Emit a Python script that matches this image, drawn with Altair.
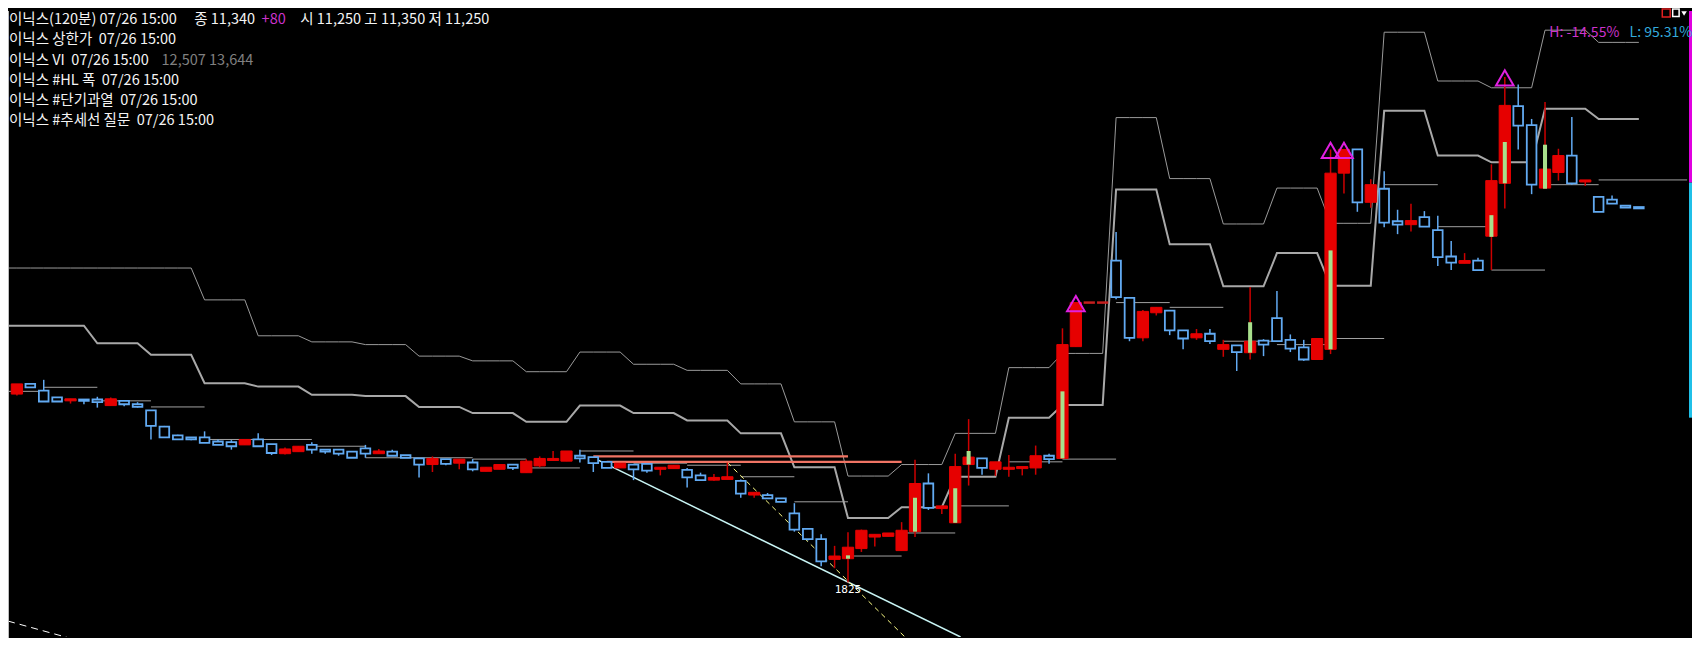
import altair as alt
import pandas as pd

# ---------------- data (120-minute bars, 4 bars per trading day) ----------------
opens = [8590, 8740, 8640, 8540, 8490, 8510, 8510, 8420, 8490, 8440,
         8350, 8110, 7980, 7950, 7950, 7890, 7880, 7840, 7920, 7850,
         7710, 7740, 7840, 7770, 7770, 7740, 7790, 7710, 7740, 7690,
         7640, 7550, 7630, 7570, 7580, 7450, 7480, 7550, 7430, 7530,
         7610, 7600, 7680, 7660, 7590, 7500, 7550, 7560, 7480, 7490,
         7470, 7390, 7320, 7330, 7310, 7100, 7100, 7050, 6830, 6600,
         6450, 6150, 6160, 6310, 6480, 6490, 6280, 6560, 7270, 6900,
         6690, 7550, 7640, 7480, 7480, 7490, 7500, 7680, 7640, 9290,
         9940, 9940, 10560, 10010, 9420, 9790, 9820, 9530, 9420, 9480,
         9250, 9310, 9200, 9380, 9710, 9390, 9280, 9100, 9250, 11850,
         12200, 11420, 11620, 11140, 11090, 11200, 11010, 10620, 10520, 10560,
         10920, 11700, 12840, 12560, 11630, 11860, 12110, 11720, 11500, 11460,
         11370, 11350]
highs = [8740, 8750, 8800, 8540, 8520, 8510, 8550, 8540, 8490, 8470,
         8350, 8120, 7990, 7950, 8040, 7920, 7910, 7920, 8010, 7850,
         7800, 7820, 7880, 7770, 7770, 7740, 7840, 7780, 7770, 7690,
         7640, 7670, 7630, 7630, 7630, 7510, 7550, 7550, 7630, 7670,
         7750, 7750, 7770, 7660, 7590, 7570, 7550, 7560, 7510, 7540,
         7500, 7430, 7410, 7580, 7330, 7140, 7130, 7050, 6980, 6600,
         6520, 6350, 6550, 6590, 6520, 6540, 6700, 7620, 7420, 6940,
         7710, 8220, 7640, 7590, 7690, 7520, 7830, 7710, 9560, 9940,
         9940, 9940, 10980, 10010, 9830, 9870, 9820, 9530, 9550, 9550,
         9390, 9310, 10170, 9400, 10110, 9470, 9390, 9410, 12200, 12200,
         12200, 11760, 11880, 11310, 11400, 11290, 11220, 10850, 10670, 10600,
         11980, 13270, 13160, 12650, 12900, 12210, 12680, 11750, 11500, 11520,
         11370, 11350]
lows = [8570, 8690, 8480, 8480, 8450, 8440, 8390, 8420, 8410, 8390,
        7920, 7950, 7920, 7910, 7870, 7840, 7770, 7840, 7810, 7690,
        7700, 7740, 7710, 7710, 7680, 7650, 7650, 7710, 7680, 7650,
        7360, 7440, 7540, 7480, 7450, 7450, 7480, 7470, 7430, 7510,
        7610, 7600, 7580, 7440, 7500, 7500, 7320, 7430, 7390, 7490,
        7210, 7320, 7310, 7330, 7060, 7060, 7050, 7000, 6560, 6430,
        6050, 6020, 5810, 6260, 6340, 6490, 6280, 6480, 6880, 6820,
        6690, 7240, 7400, 7380, 7370, 7390, 7400, 7560, 7640, 9290,
        9940, 9940, 9990, 9370, 9370, 9750, 9460, 9250, 9390, 9330,
        9140, 8930, 9100, 9150, 9370, 9210, 9080, 9100, 9180, 11550,
        11280, 11340, 11050, 10950, 10990, 11060, 10480, 10420, 10520, 10420,
        10420, 11330, 12200, 11540, 11630, 11740, 11680, 11660, 11280, 11400,
        11340, 11330]
closes = [8740, 8690, 8480, 8480, 8520, 8490, 8470, 8520, 8440, 8400,
          8120, 7950, 7920, 7920, 7870, 7840, 7820, 7920, 7820, 7720,
          7780, 7820, 7770, 7740, 7710, 7650, 7710, 7750, 7680, 7650,
          7550, 7640, 7560, 7630, 7480, 7510, 7550, 7500, 7600, 7640,
          7640, 7750, 7640, 7570, 7500, 7570, 7480, 7460, 7510, 7540,
          7360, 7320, 7360, 7370, 7120, 7140, 7050, 7000, 6590, 6450,
          6120, 6200, 6330, 6580, 6520, 6540, 6580, 7270, 6910, 6940,
          7520, 7660, 7500, 7590, 7510, 7520, 7680, 7630, 9320, 9940,
          9940, 9940, 10020, 9420, 9810, 9870, 9530, 9410, 9480, 9370,
          9320, 9210, 9370, 9320, 9370, 9260, 9100, 9410, 11850, 12200,
          11420, 11680, 11120, 11090, 11150, 11060, 10610, 10530, 10560, 10420,
          11740, 12850, 12550, 11680, 11910, 12110, 11700, 11750, 11280, 11400,
          11340, 11330]

# bars that touched the upper price limit (triangle markers)
limit_up_bars = [79, 98, 99, 111]

# light-green inner bars
green_bars = [62, 67, 70, 71, 78, 92, 98, 110, 111, 114]
green_lo = [6160, 6560, 6690, 7550, 7640, 9200, 9250, 10910, 11700, 11620]
green_hi = [6210, 7060, 7200, 7750, 8630, 9650, 10710, 11230, 12310, 12270]

# "#HL 폭" day levels (one value per trading day)
hl_upper = [10450, 10450, 10450, 10450, 9980, 9450, 9360, 9320, 9150, 9080,
            8920, 9210, 9030, 8940, 8740, 8180, 7380, 7550, 8010, 8980,
            9190, 12670, 11770, 11100, 11630, 11110, 13930, 13210, 13110, 13960,
            13780]
hl_mid = [9600, 9600, 9340, 9170, 8750, 8700, 8580, 8560, 8400, 8310,
          8180, 8420, 8310, 8200, 8010, 7510, 6760, 6920, 7370, 8240,
          8430, 11610, 10800, 10180, 10670, 10190, 12770, 12110, 12010, 12800,
          12650]
prev_close_day0 = 8630

# horizontal salmon levels
salmon_price = [7670, 7590]
salmon_from = [43, 44]
salmon_to = [62, 66]

# trend lines (bar index, price)
cyan_i = [43.1, 70.4]
cyan_p = [7640, 5005]
yellow_i = [53.0, 66.25]
yellow_p = [7580, 5005]
white_i = [-0.665, 3.9]
white_p = [5240, 4990]

# ---------------- chart ----------------
W, H = 1684, 630
SX, SY = W / 1700.0, H / 646.0
xsc = alt.Scale(domain=[-0.665, 124.89], nice=False, zero=False)
ysc = alt.Scale(domain=[5005, 14243], nice=False, zero=False)

RED = "#e60000"
RED_WICK = "#cc0000"
BLUE = "#62aaf2"
GRAY = "#a0a0a0"

n = len(opens)
df = pd.DataFrame({"i": list(range(n)), "o": opens, "h": highs, "l": lows, "c": closes})
df["x1"] = df["i"] - 0.42
df["x2"] = df["i"] + 0.42
df["bx1"] = df["i"] - 0.36
df["bx2"] = df["i"] + 0.36
flat = df[df["h"] == df["l"]]
up = df[(df["c"] >= df["o"]) & (df["h"] != df["l"])]
dn = df[df["c"] < df["o"]]


def X(f):
    return alt.X(f + ":Q", scale=xsc, axis=None)


def Y(f):
    return alt.Y(f + ":Q", scale=ysc, axis=None)


# day level step lines
steps = pd.DataFrame({"i": list(range(-1, n))})
steps["u"] = [hl_upper[(i + 2) // 4] for i in steps["i"]]
steps["m"] = [hl_mid[(i + 2) // 4] for i in steps["i"]]
upper_line = alt.Chart(steps).mark_line(color="#9a9a9a", strokeWidth=1, clip=True).encode(x=X("i"), y=Y("u"))
mid_line = alt.Chart(steps).mark_line(color="#a8a8a8", strokeWidth=2, clip=True).encode(x=X("i"), y=Y("m"))

# previous-day close levels drawn over each day
pc_rows = [{"a": -2, "b": 2, "p": prev_close_day0}]
n_days = (n + 2) // 4
for d in range(1, n_days):
    s = 4 * d - 2
    pc_rows.append({"a": s, "b": (s + 4) if d < n_days - 1 else 124.6, "p": closes[s - 1]})
pc = pd.DataFrame(pc_rows)
pc_lines = alt.Chart(pc).mark_rule(color=GRAY, strokeWidth=1, clip=True).encode(x=X("a"), x2="b:Q", y=Y("p"))

sal = pd.DataFrame({"a": salmon_from, "b": salmon_to, "p": salmon_price})
sal_lines = alt.Chart(sal).mark_rule(color="#f07464", strokeWidth=2.2).encode(x=X("a"), x2="b:Q", y=Y("p"))

cyan = alt.Chart(pd.DataFrame({"i": cyan_i, "p": cyan_p})).mark_line(
    color="#c8f4f4", strokeWidth=1.5, clip=True).encode(x=X("i"), y=Y("p"))
yellow = alt.Chart(pd.DataFrame({"i": yellow_i, "p": yellow_p})).mark_line(
    color="#ffff88", strokeWidth=1, strokeDash=[5, 4], clip=True).encode(x=X("i"), y=Y("p"))
white = alt.Chart(pd.DataFrame({"i": white_i, "p": white_p})).mark_line(
    color="#ffffff", strokeWidth=1, strokeDash=[7, 5], clip=True).encode(x=X("i"), y=Y("p"))

wick_up = alt.Chart(up).mark_rule(color=RED_WICK, strokeWidth=1.5).encode(x=X("i"), y=Y("l"), y2="h:Q")
wick_dn = alt.Chart(dn).mark_rule(color=BLUE, strokeWidth=1.5).encode(x=X("i"), y=Y("l"), y2="h:Q")
body_up = alt.Chart(up).mark_rect(fill=RED, stroke=RED, strokeWidth=1).encode(
    x=X("x1"), x2="x2:Q", y=Y("o"), y2="c:Q")
body_dn = alt.Chart(dn).mark_rect(fill="#000000", stroke=BLUE, strokeWidth=1.8).encode(
    x=X("bx1"), x2="bx2:Q", y=Y("o"), y2="c:Q")
body_flat = alt.Chart(flat).mark_rule(color="#c41e1e", strokeWidth=2.5).encode(
    x=X("x1"), x2="x2:Q", y=Y("c"))

gdf = pd.DataFrame({"i": green_bars, "lo": green_lo, "hi": green_hi})
gdf["a"] = gdf["i"] - 0.15
gdf["b"] = gdf["i"] + 0.15
green = alt.Chart(gdf).mark_rect(color="#a8e08c").encode(x=X("a"), x2="b:Q", y=Y("lo"), y2="hi:Q")

tri = pd.DataFrame({"i": limit_up_bars, "h": [highs[k] for k in limit_up_bars]})
triangles = alt.Chart(tri).mark_point(shape="triangle-up", filled=False, size=310, stroke="#e020e0",
                                      strokeWidth=2, opacity=1, yOffset=1).encode(x=X("i"), y=Y("h"))

low_i = lows.index(min(lows))
low_lbl = alt.Chart(pd.DataFrame({"i": [low_i], "p": [min(lows)], "t": ["1825"]})).mark_text(
    color="#ffffff", fontSize=11, font="DejaVu Sans Mono", dy=8, align="center").encode(
    x=X("i"), y=Y("p"), text="t:N")

one = pd.DataFrame({"z": [0]})
FONT = "Noto Sans CJK KR"


def label(text, x, y, color="#f4f4f4", size=14.5):
    return alt.Chart(one).mark_text(text=text, color=color, fontSize=size, font=FONT,
                                    align="left", baseline="middle").encode(
        x=alt.value(x * SX), y=alt.value(y * SY))


NB = "\u00a0"
texts = [
    label("이닉스(120분) 07/26 15:00", 1, 9),
    label("종 11,340", 188, 9),
    label("+80", 256, 9, color="#cc33cc"),
    label("시 11,250 고 11,350 저 11,250", 295, 9),
    label("이닉스 상한가" + NB + NB + "07/26 15:00", 1, 30),
    label("이닉스 VI" + NB + NB + "07/26 15:00", 1, 51),
    label("12,507 13,644", 155, 51, color="#808080"),
    label("이닉스 #HL 폭" + NB + NB + "07/26 15:00", 1, 72),
    label("이닉스 #단기과열" + NB + NB + "07/26 15:00", 1, 92),
    label("이닉스 #추세선 질문" + NB + NB + "07/26 15:00", 1, 113),
    label("H: -14.55%", 1556, 23, color="#cc33cc", size=14),
    label("L: 95.31%", 1637, 23, color="#33aadd", size=14),
]

edge_left = alt.Chart(one).mark_rule(color="#bdbdbd", strokeWidth=1).encode(
    x=alt.value(0.5), y=alt.value(0), y2=alt.value(H))
edge_mag = alt.Chart(one).mark_rect(color="#e000e0").encode(
    x=alt.value(W - 3), x2=alt.value(W), y=alt.value(0), y2=alt.value(176 * SY))
edge_cyan = alt.Chart(one).mark_rect(color="#20c0e8").encode(
    x=alt.value(W - 3), x2=alt.value(W), y=alt.value(176 * SY), y2=alt.value(417 * SY))

# small window buttons in the top-right corner
btn_red = alt.Chart(one).mark_rect(fill="#000000", stroke="#e02020", strokeWidth=1.5).encode(
    x=alt.value(1670 * SX), x2=alt.value(1678 * SX), y=alt.value(-2), y2=alt.value(6))
btn_white = alt.Chart(one).mark_rect(fill="#000000", stroke="#ffffff", strokeWidth=1.5).encode(
    x=alt.value(1680.5 * SX), x2=alt.value(1687 * SX), y=alt.value(-2), y2=alt.value(5.5))
btn_tri = alt.Chart(one).mark_point(shape="triangle-down", filled=True, color="#ffffff", size=30,
                                    opacity=1).encode(x=alt.value(1692 * SX), y=alt.value(2.5))

chart = alt.layer(
    pc_lines, upper_line, mid_line, sal_lines, cyan, yellow, white,
    wick_up, wick_dn, body_up, body_dn, body_flat, green, triangles, low_lbl,
    edge_left, edge_mag, edge_cyan, btn_red, btn_white, btn_tri, *texts
).properties(
    width=W, height=H, background="#000000", padding=0,
    autosize=alt.AutoSizeParams(type="fit", contains="padding")
).configure_view(stroke=None)

chart.save("out.html", embed_options={"renderer": "svg", "actions": False})
